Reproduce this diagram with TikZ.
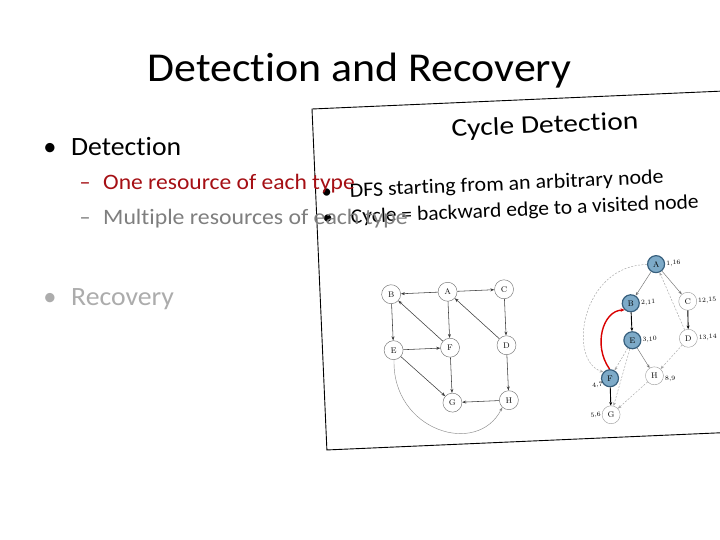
\documentclass[tikz,border=0pt]{standalone}
\usepackage{fontspec}
\setmainfont{Carlito}[Ligatures=NoCommon]
\newfontfamily\gfont{Latin Modern Roman}
\usetikzlibrary{arrows.meta}
\definecolor{dred}{RGB}{165,15,20}
\definecolor{mgray}{RGB}{127,127,127}
\definecolor{lgray}{RGB}{172,172,172}
\definecolor{nblue}{RGB}{125,170,200}
\definecolor{nborder}{RGB}{55,95,125}
\definecolor{egray}{RGB}{60,60,60}
\begin{document}
\begin{tikzpicture}[x=1pt,y=-1pt,
  lnode/.style={circle,draw=black!55,line width=0.45pt,minimum size=19pt,inner sep=0pt,fill=white,font=\gfont\fontsize{8}{8}\selectfont},
  bnode/.style={circle,draw=nborder,line width=1.2pt,minimum size=17pt,inner sep=0pt,fill=nblue,font=\gfont\fontsize{8}{8}\selectfont},
  wnode/.style={circle,draw=black!40,line width=0.4pt,minimum size=18pt,inner sep=0pt,fill=white,font=\gfont\fontsize{8}{8}\selectfont},
  lab/.style={font=\gfont\fontsize{6.5}{6.5}\selectfont,inner sep=1pt},
  le/.style={draw=egray,line width=0.55pt,-{Stealth[length=4pt,width=3pt]}},
  lcurve/.style={draw=black!45,line width=0.45pt,-{Stealth[length=4pt,width=3pt]}},
  tgray/.style={draw=black!55,line width=0.45pt,-{Stealth[length=3.5pt,width=2.8pt]}},
  tblack/.style={draw=black,line width=0.9pt,-{Stealth[length=3.5pt,width=3pt]}},
  dgray/.style={draw=black!35,line width=0.45pt,dash pattern=on 2pt off 1.5pt,-{Stealth[length=3.5pt,width=2.8pt]}},
  back/.style={draw=red!85!black,line width=1.4pt,-{Stealth[length=4pt,width=3.5pt]}},
  ptext/.style={anchor=base west,inner sep=0pt,font=\fontsize{20.5}{24}\selectfont},
  pbul/.style={anchor=base,inner sep=0pt,font=\fontsize{20.5}{24}\selectfont}
]
\useasboundingbox (0,0) rectangle (720,540);
\fill[white] (0,0) rectangle (720,540);
\begin{scope}
\clip (0,0) rectangle (720,540);
\begin{scope}[shift={(312,109)},rotate=2.5,transform shape]
  \draw[fill=white,line width=0.9pt] (0,0) rectangle (470,341.3);
  \node[anchor=base,inner sep=0pt,font=\fontsize{25.5}{28}\selectfont] (ct) at (232,34) {\scalebox{1.16}[1]{Cycle Detection}};
  \node[pbul] (b1) at (11,89.6) {•};
  \node[ptext] (t1) at (34,89.6) {\scalebox{1.07}[1]{DFS starting from an arbitrary node}};
  \node[pbul] (b2) at (11,116) {•};
  \node[ptext] (t2) at (34,116) {\scalebox{1.05}[1]{Cycle = backward edge to a visited node}};
  % left graph
  \node[lnode] (B) at (71,188.5) {B};
  \node[lnode] (A) at (127.5,188.5) {A};
  \node[lnode] (C) at (184,188.5) {C};
  \node[lnode] (E) at (71,244.5) {E};
  \node[lnode] (F) at (127.5,244.5) {F};
  \node[lnode] (D) at (184,244.5) {D};
  \node[lnode] (G) at (127.5,299.5) {G};
  \node[lnode] (H) at (184,299.5) {H};
  \draw[le] (A) -- (B);
  \draw[le] (A) -- (C);
  \draw[le] (B) -- (E);
  \draw[le] (A) -- (F);
  \draw[le] (F) -- (B);
  \draw[le] (E) -- (F);
  \draw[le] (C) -- (D);
  \draw[le] (D) -- (A);
  \draw[le] (E) -- (G);
  \draw[le] (F) -- (G);
  \draw[le] (D) -- (H);
  \draw[le] (H) -- (G);
  \draw[lcurve] (E.south) .. controls (66,325) and (150,355) .. (H.south west);
  % right graph
  \node[bnode] (rA) at (337,170) {A};
  \node[bnode] (rB) at (310,208) {B};
  \node[wnode] (rC) at (367,208.5) {C};
  \node[bnode] (rE) at (310,245) {E};
  \node[wnode] (rD) at (366,245.5) {D};
  \node[bnode] (rF) at (286,282) {F};
  \node[wnode] (rH) at (330.5,281.5) {H};
  \node[wnode] (rG) at (285.5,318.5) {G};
  \node[lab,anchor=west] (lA) at (rA.east) {1,16};
  \node[lab,anchor=west] (lB) at (rB.east) {2,11};
  \node[lab,anchor=west] (lC) at (rC.east) {12,15};
  \node[lab,anchor=west] (lE) at (rE.east) {3,10};
  \node[lab,anchor=west] (lD) at (rD.east) {13,14};
  \node[lab,anchor=east] (lF) at (rF.south west) {4,7};
  \node[lab,anchor=north west] (lH) at (rH.east) {8,9};
  \node[lab,anchor=east] (lG) at (rG.west) {5,6};
  \draw[tgray] (rA) -- (rB);
  \draw[tgray] (rA) -- (rC);
  \draw[tblack] (rB) -- (rE);
  \draw[tblack] (rC) -- (rD);
  \draw[dgray] (rE) -- (rF);
  \draw[tgray] (rE) -- (rH);
  \draw[dgray] (rE) -- (rG);
  \draw[tblack] (rF) -- (rG);
  \draw[dgray] (rH) -- (rG);
  \draw[dgray] (rD) -- (rH);
  \draw[dgray] (rD) -- (rA);
  \draw[dgray] (rA.west) .. controls (262,168) and (244,262) .. (rF.north west);
  \draw[back] (rF.north) .. controls (270,248) and (282,214) .. (rB.south west);
\end{scope}
\end{scope}
% slide text
\node[anchor=base,inner sep=0pt,font=\fontsize{41}{46}\selectfont] (title) at (359.5,82) {\scalebox{1.07}[1]{Detection and Recovery}};
\node[anchor=base,inner sep=0pt,font=\fontsize{26.4}{30}\selectfont] (bd) at (50,156) {•};
\node[anchor=base west,inner sep=0pt,font=\fontsize{26.4}{30}\selectfont] (det) at (71,156) {\scalebox{1.05}[1]{Detection}};
\node[anchor=base,inner sep=0pt,text=dred,font=\fontsize{22}{26}\selectfont] (d1) at (85,190) {–};
\node[anchor=base west,inner sep=0pt,text=dred,font=\fontsize{22}{26}\selectfont] (s1) at (103,190) {\scalebox{1.07}[1]{One resource of each type}};
\node[anchor=base,inner sep=0pt,text=mgray,font=\fontsize{22}{26}\selectfont] (d2) at (85,225) {–};
\node[anchor=base west,inner sep=0pt,text=mgray,font=\fontsize{22}{26}\selectfont] (s2) at (103,225) {\scalebox{1.08}[1]{Multiple resources of each type}};
\node[anchor=base,inner sep=0pt,text=lgray,font=\fontsize{26.4}{30}\selectfont] (br) at (50,305) {•};
\node[anchor=base west,inner sep=0pt,text=lgray,font=\fontsize{26.4}{30}\selectfont] (rec) at (71,305) {\scalebox{1.05}[1]{Recovery}};
\end{tikzpicture}
\end{document}
